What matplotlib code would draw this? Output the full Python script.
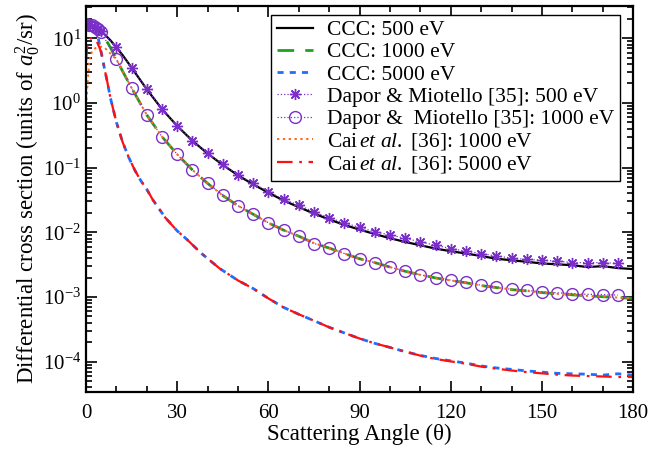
import matplotlib
matplotlib.use("Agg")
import matplotlib.pyplot as plt
from matplotlib.ticker import MultipleLocator, LogLocator

plt.rcParams["font.family"] = ["Liberation Serif", "DejaVu Serif"]
plt.rcParams["mathtext.fontset"] = "custom"
plt.rcParams["mathtext.rm"] = "Liberation Serif"
plt.rcParams["mathtext.it"] = "Liberation Serif:italic"

# CCC 500 eV
ccc500_x = [0, 1, 2, 3, 4, 5, 6, 8, 10, 12, 15, 20, 25, 30, 35, 40, 45, 50, 55, 60, 65, 70, 75, 80,
            85, 90, 95, 100, 105, 110, 115, 120, 125, 130, 135, 140, 145, 150, 155, 160, 165, 170, 175, 180]
ccc500_y = [16.5, 16, 15.5, 14.8, 13.8, 12.8, 11.6, 9.3, 7.2, 5.5, 3.5, 1.62, 0.80, 0.44, 0.26, 0.165,
            0.11, 0.076, 0.055, 0.041, 0.031, 0.0245, 0.0195, 0.0158, 0.013, 0.011, 0.0094, 0.0081,
            0.0071, 0.0063, 0.0056, 0.0051, 0.0047, 0.0043, 0.0039, 0.0037, 0.0035, 0.0033, 0.0032,
            0.0031, 0.0029, 0.0030, 0.0028, 0.0027]

# CCC 1000 eV
ccc1000_x = [0, 1, 2, 3, 4, 5, 6, 7, 8, 10, 12, 15, 20, 25, 30, 35, 40, 45, 50, 55, 60, 65, 70, 75, 80,
             85, 90, 95, 100, 105, 110, 115, 120, 125, 130, 135, 140, 145, 150, 155, 160, 165, 170, 175, 180]
ccc1000_y = [16, 15.8, 15.3, 14.5, 13.3, 12, 10.3, 8.7, 7.2, 4.75, 3.1, 1.7, 0.65, 0.30, 0.16, 0.092,
             0.057, 0.037, 0.0257, 0.0190, 0.0140, 0.0108, 0.0087, 0.0068, 0.0057, 0.0047, 0.0039,
             0.0034, 0.0029, 0.0025, 0.0022, 0.00197, 0.0018, 0.00166, 0.0015, 0.0014, 0.0013,
             0.00124, 0.00117, 0.00112, 0.00108, 0.00104, 0.00101, 0.00098, 0.00095]

# CCC 5000 eV
ccc5000_x = [0, 1, 2, 3, 4, 5, 6, 7, 8, 10, 12, 14, 16, 18, 20, 22, 26, 30, 33, 38, 44, 50, 55, 60,
             65, 70, 75, 80, 85, 90, 95, 100, 105, 110, 115, 120, 125, 130, 135, 140, 145, 150, 155,
             160, 165, 170, 175, 180]
ccc5000_y = [19, 19, 18, 14.5, 10, 6, 3.5, 2.1, 1.2, 0.5, 0.25, 0.145, 0.092, 0.063, 0.046, 0.0316,
             0.017, 0.0105, 0.0079, 0.0047, 0.00275, 0.0018, 0.00135, 0.00095, 0.00069, 0.00054,
             0.00043, 0.00034, 0.000278, 0.000228, 0.000192, 0.000166, 0.000143, 0.000125, 0.000112,
             0.000103, 9.5e-5, 8.6e-5, 8.0e-5, 7.6e-5, 7.2e-5, 6.9e-5, 6.6e-5, 6.5e-5, 6.4e-5,
             6.2e-5, 6.5e-5, 6.2e-5]

# Dapor & Miotello 500 eV
dm500_x = [0, 1, 2, 3, 4, 5, 10, 15, 20, 25, 30, 35, 40, 45, 50, 55, 60, 65, 70, 75, 80, 85, 90,
           95, 100, 105, 110, 115, 120, 125, 130, 135, 140, 145, 150, 155, 160, 165, 170, 175]
dm500_y = [16, 16, 15.5, 15, 14, 13, 7.2, 3.5, 1.64, 0.80, 0.44, 0.26, 0.166, 0.112, 0.077, 0.057,
           0.0424, 0.0323, 0.0264, 0.0207, 0.0168, 0.014, 0.0119, 0.0102, 0.0091, 0.0081, 0.0071,
           0.0063, 0.0056, 0.0051, 0.0047, 0.0043, 0.0040, 0.0038, 0.0037, 0.0036, 0.0034, 0.0034,
           0.0034, 0.0033]

# Dapor & Miotello 1000 eV
dm1000_x = [0, 1, 2, 3, 4, 5, 10, 15, 20, 25, 30, 35, 40, 45, 50, 55, 60, 65, 70, 75, 80, 85, 90,
            95, 100, 105, 110, 115, 120, 125, 130, 135, 140, 145, 150, 155, 160, 165, 170, 175]
dm1000_y = [16.5, 16.3, 15.8, 15, 13.8, 12.3, 4.75, 1.69, 0.65, 0.30, 0.16, 0.092, 0.057, 0.0377,
            0.0257, 0.0191, 0.0140, 0.0108, 0.0087, 0.0067, 0.0058, 0.0047, 0.0039, 0.0034, 0.0029,
            0.0025, 0.0022, 0.0020, 0.00182, 0.00168, 0.00152, 0.00143, 0.00131, 0.00127, 0.0012,
            0.00116, 0.00113, 0.0011, 0.00109, 0.00107]

# Cai et al. 1000 eV
cai1000_x = [0, 0.5, 1, 1.5, 2, 3, 4, 5, 6, 7, 8, 9, 10, 12, 15, 20, 25, 30, 35, 40, 45, 50, 55, 60,
             65, 70, 75, 80, 85, 90, 95, 100, 105, 110, 115, 120, 125, 130, 135, 140, 145, 150, 155,
             160, 165, 170, 175, 180]
cai1000_y = [0.9, 2.0, 4.0, 5.5, 6.3, 7.0, 7.3, 7.4, 7.2, 6.5, 5.8, 5.2, 4.7, 3.1, 1.7, 0.65, 0.30,
             0.16, 0.092, 0.057, 0.037, 0.0257, 0.0190, 0.0140, 0.0108, 0.0087, 0.0068, 0.0057,
             0.0047, 0.0039, 0.0034, 0.0029, 0.0025, 0.0022, 0.00197, 0.0018, 0.00166, 0.0015,
             0.0014, 0.0013, 0.00124, 0.00117, 0.00112, 0.00108, 0.00104, 0.00101, 0.00098, 0.00095]

# Cai et al. 5000 eV
cai5000_x = [0, 0.3, 0.7, 1.5, 2.5, 3.5, 4.5, 5, 6, 7, 8, 10, 12, 14, 16, 18, 20, 22, 26, 30, 33,
             38, 44, 50, 55, 60, 65, 70, 75, 80, 85, 90, 95, 100, 105, 110, 115, 120, 125, 130, 135,
             140, 145, 150, 155, 160, 165, 170, 175, 180]
cai5000_y = [4.5, 7, 9, 10, 10, 9, 7, 6, 3.5, 2.1, 1.2, 0.5, 0.25, 0.145, 0.092, 0.063, 0.046, 0.0316,
             0.017, 0.0105, 0.0079, 0.0047, 0.00275, 0.0018, 0.00135, 0.00095, 0.00069, 0.00054,
             0.00043, 0.00034, 0.000278, 0.000228, 0.000192, 0.000166, 0.000143, 0.000124, 0.00011,
             0.000101, 9.3e-5, 8.4e-5, 7.8e-5, 7.3e-5, 6.9e-5, 6.6e-5, 6.3e-5, 6.1e-5, 6.0e-5,
             5.9e-5, 5.8e-5, 5.8e-5]

purple = "#7b2fc9"

fig = plt.figure(figsize=(6.52, 4.55), dpi=100)
ax = fig.add_axes([0.132, 0.1385, 0.839, 0.8485])

ax.plot(ccc500_x, ccc500_y, color="black", lw=1.6, label="CCC: 500 eV")
ax.plot(ccc1000_x, ccc1000_y, color="#1fa21f", lw=2.0, ls=(0, (6, 4)), label="CCC: 1000 eV")
ax.plot(ccc5000_x, ccc5000_y, color="#1f6fff", lw=2.0, ls=(0, (2.2, 2.2)), label="CCC: 5000 eV")
ax.plot(dm500_x, dm500_y, color=purple, lw=0.9, ls=":", marker=(8, 2, 0), ms=8, mew=1.0,
        label="Dapor & Miotello [35]: 500 eV")
ax.plot(dm1000_x, dm1000_y, color=purple, lw=0.9, ls=":", marker="o", ms=8.5, mfc="none", mew=1.0,
        label="Dapor &  Miotello [35]: 1000 eV")
ax.plot(cai1000_x, cai1000_y, color="#ff6a1a", lw=1.4, ls=(0, (1.2, 1.8)),
        label=r"Cai$\,\mathit{et\ al.}$ [36]: 1000 eV")
ax.plot(cai5000_x, cai5000_y, color="#ff1010", lw=1.6, ls=(0, (7, 3, 1.2, 3)),
        label=r"Cai$\,\mathit{et\ al.}$ [36]: 5000 eV")

ax.set_yscale("log")
ax.set_xlim(0, 180)
ax.set_ylim(3.4e-5, 31.6)
ax.xaxis.set_major_locator(MultipleLocator(30))
ax.xaxis.set_minor_locator(MultipleLocator(10))
ax.yaxis.set_major_locator(LogLocator(base=10, numticks=20))
ax.yaxis.set_minor_locator(LogLocator(base=10, subs=range(2, 10), numticks=20))
ax.tick_params(which="both", direction="in", top=True, right=True, labelsize=15, width=1.2)
ax.tick_params(which="major", length=8)
ax.tick_params(which="minor", length=4)
ax.tick_params(axis="x", pad=9)
for sp in ax.spines.values():
    sp.set_linewidth(1.6)

ax.set_xlabel("Scattering Angle (θ)", fontsize=16.5, labelpad=0)
ax.set_ylabel(r"Differential cross section (units of $a_0^2$/sr)", fontsize=16.5, labelpad=1)

leg = ax.legend(loc="upper right", bbox_to_anchor=(0.976, 0.977), borderaxespad=0, fontsize=15.5,
                frameon=True, fancybox=False, edgecolor="black", framealpha=1,
                handlelength=1.7, handletextpad=0.65, labelspacing=0.1, borderpad=0.25)
leg.get_frame().set_linewidth(1.0)

fig.savefig("out.png", dpi=100)
